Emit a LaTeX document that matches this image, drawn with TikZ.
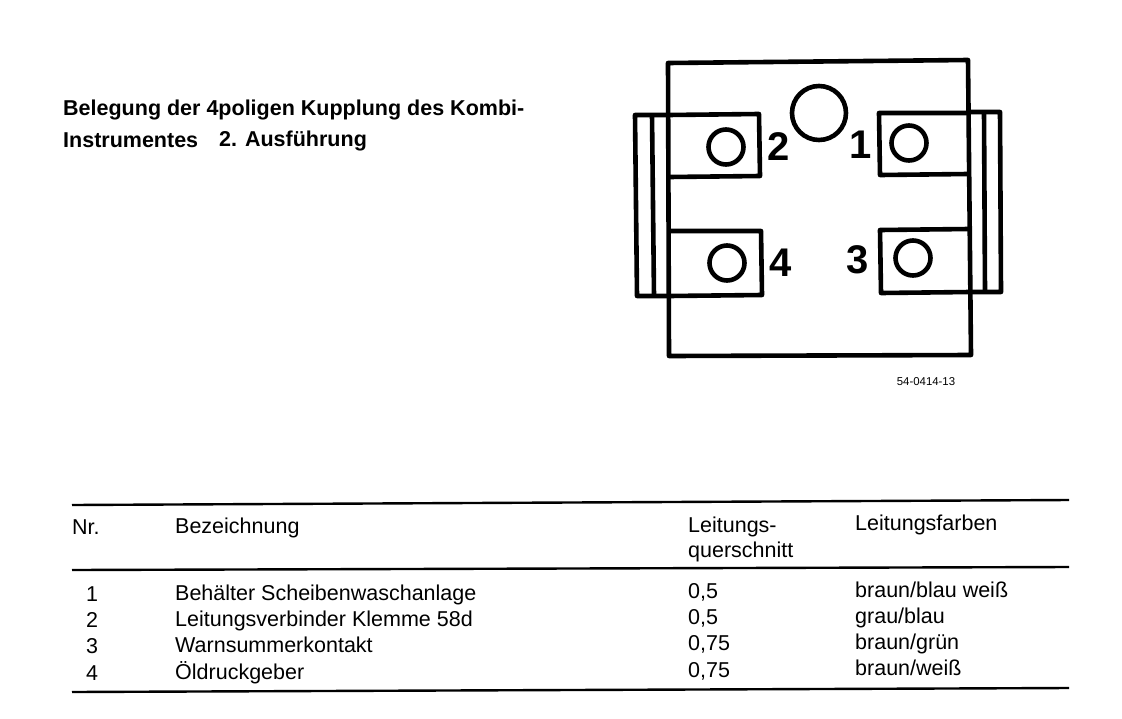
\documentclass[tikz,border=0pt]{standalone}
\usepackage{fontspec}
\setmainfont{Liberation Sans}
\usepackage{tikz}
\usetikzlibrary{positioning}

\tikzset{
    frameline/.style={line width=4.6pt, line join=round},
    pin/.style={draw, circle, line width=4.6pt, inner sep=0pt, minimum size=35pt},
    pinlabel/.style={font=\fontsize{40}{40}\selectfont\bfseries, inner sep=0pt},
    titletext/.style={font=\fontsize{21.5}{24}\selectfont\bfseries, anchor=base west, inner sep=0pt},
    celltext/.style={font=\fontsize{21.5}{24}\selectfont, anchor=base west, inner sep=0pt},
    rowno/.style={font=\fontsize{21.5}{24}\selectfont, anchor=base, inner sep=0pt},
    tablerule/.style={line width=2.4pt}
}

\begin{document}
\begin{tikzpicture}[x=1pt, y=-1pt]
        \useasboundingbox (0,0) rectangle (1122,718);

        % Title
        \node (title1) [titletext] at (63,115) {Belegung der 4poligen Kupplung des Kombi-};
        \node (title2) [titletext] at (63,147) {Instrumentes};
        \node (title3) [titletext] at (219,146) {2. Ausführung};

        % Housing
        \draw [frameline] (668,63) -- (968,60) -- (971,355) -- (669,356) -- cycle;
        \draw [frameline] (668,115) -- (635,115) -- (637,296) -- (669,296);
        \draw [frameline] (652,115) -- (654,296);
        \draw [frameline] (968,112) -- (1000,112) -- (1001,292) -- (970,292);
        \draw [frameline] (984,112) -- (985,292);

        % Sockets
        \draw [frameline] (668,115) -- (759,114) -- (760,176) -- (669,177);
        \draw [frameline] (669,231) -- (761,231) -- (762,295) -- (669,296);
        \draw [frameline] (968,113) -- (879,113) -- (880,175) -- (968,174);
        \draw [frameline] (969,229) -- (880,230) -- (881,293) -- (970,292);

        % Pins
        \node (hole) [pin, minimum size=54pt] at (819,113) {};
        \node (pin2) [pin] at (726,147) {};
        \node (pin1) [pin] at (909,143) {};
        \node (pin4) [pin] at (727,263) {};
        \node (pin3) [pin] at (913,258) {};

        % Pin numbers
        \node (no2) [pinlabel] at (779,147) {2};
        \node (no1) [pinlabel] at (861,145) {1};
        \node (no4) [pinlabel] at (781,263) {4};
        \node (no3) [pinlabel] at (858,260) {3};

        \node (code) [font=\fontsize{11.4}{12}\selectfont, inner sep=0pt] at (926,382) {54-0414-13};

        % Table rules
        \coordinate (rule1a) at (72,505);
        \coordinate (rule1b) at (1069,500);
        \coordinate (rule2a) at (72,570);
        \coordinate (rule2b) at (1069,567);
        \coordinate (rule3a) at (72,692);
        \coordinate (rule3b) at (1069,688);
        \draw [tablerule] (rule1a) -- (rule1b);
        \draw [tablerule] (rule2a) -- (rule2b);
        \draw [tablerule] (rule3a) -- (rule3b);

        % Table head
        \node (nr) [celltext] at (72,534) {Nr.};
        \node (bez) [celltext] at (175,533) {Bezeichnung};
        \node (quer1) [celltext] at (688,532) {Leitungs-};
        \node (quer2) [celltext] at (688,557) {querschnitt};
        \node (farben) [celltext] at (855,530) {Leitungsfarben};

        % Table rows
        \node (r1) [rowno] at (92,601) {1};
        \node (r2) [rowno] at (92,627) {2};
        \node (r3) [rowno] at (92,653) {3};
        \node (r4) [rowno] at (92,680) {4};
        \node (b1) [celltext] at (175,600) {Behälter Scheibenwaschanlage};
        \node (b2) [celltext] at (175,626) {Leitungsverbinder Klemme 58d};
        \node (b3) [celltext] at (175,652) {Warnsummerkontakt};
        \node (b4) [celltext] at (175,679) {Öldruckgeber};
        \node (q1) [celltext] at (688,598) {0,5};
        \node (q2) [celltext] at (688,624) {0,5};
        \node (q3) [celltext] at (688,650) {0,75};
        \node (q4) [celltext] at (688,677) {0,75};
        \node (f1) [celltext] at (855,597) {braun/blau weiß};
        \node (f2) [celltext] at (855,623) {grau/blau};
        \node (f3) [celltext] at (855,649) {braun/grün};
        \node (f4) [celltext] at (855,675) {braun/weiß};
    \end{tikzpicture}
\end{document}
